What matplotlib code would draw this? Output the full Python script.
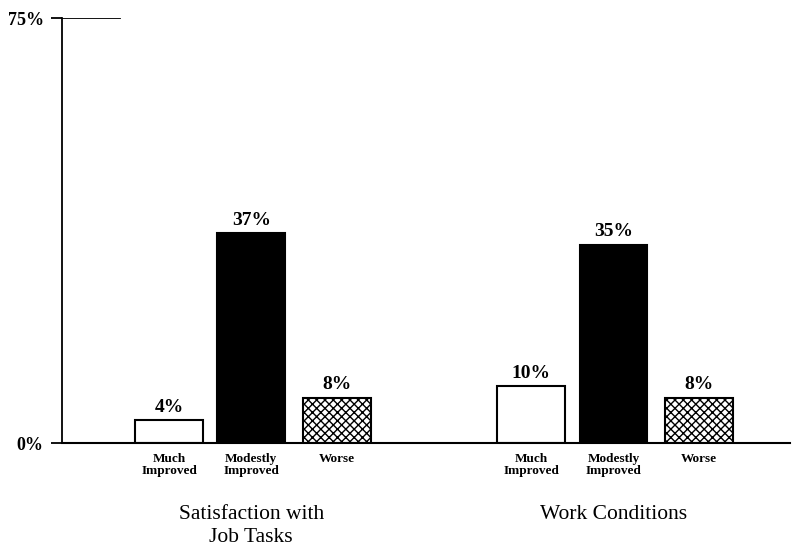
import matplotlib.pyplot as plt
import numpy as np

# dados
groups = ['Satisfaction with\nJob Tasks', 'Work Conditions']
categories = ['Much\nImproved', 'Modestly\nImproved', 'Worse']
job_tasks = [4, 37, 8]
work_conditions = [10, 35, 8]
y_ticks = [0, 75]
y_tick_labels = ['0%', '75%']

plt.rcParams['font.family'] = ['Liberation Serif', 'DejaVu Serif']

fig = plt.figure(figsize=(7.92, 5.49), dpi=100)
ax = fig.add_axes([0.078, 0.193, 0.92, 0.774])

group_centers = [0, 4.32]
offsets = [-0.98, 0, 1.02]
width = 0.81
faces = ['white', 'black', 'white']
hatches = [None, None, 'xxxx']

xs, labels = [], []
for center, values in zip(group_centers, [job_tasks, work_conditions]):
    for off, val, fc, h, cat in zip(offsets, values, faces, hatches, categories):
        x = center + off
        ax.bar(x, val, width=width, color=fc, edgecolor='black', linewidth=1.5, hatch=h)
        ax.text(x, val + 0.8, f'{val}%', ha='center', va='bottom',
                fontsize=14, fontweight='bold')
        xs.append(x)
        labels.append(cat)

for center, name in zip(group_centers, groups):
    ax.text(center, -0.145, name, transform=ax.get_xaxis_transform(),
            ha='center', va='top', fontsize=15.5, linespacing=1.3)

ax.set_xticks(xs)
ax.set_xticklabels(labels, fontsize=9.5, fontweight='bold', linespacing=1.0)
ax.tick_params(axis='x', length=0, pad=7)
ax.set_yticks(y_ticks)
ax.set_yticklabels(y_tick_labels, fontsize=13, fontweight='bold')
ax.tick_params(axis='y', direction='out', length=8, width=1.3, pad=5)
# trait horizontal en haut de l'axe
ax.axhline(75, xmin=0, xmax=0.08, color='black', linewidth=1.3)

ax.set_xlim(-2.26, 6.43)
ax.set_ylim(0, 75)
ax.spines['top'].set_visible(False)
ax.spines['right'].set_visible(False)
ax.spines['left'].set_linewidth(1.3)
ax.spines['bottom'].set_linewidth(1.5)

plt.savefig('out.png', dpi=100)
